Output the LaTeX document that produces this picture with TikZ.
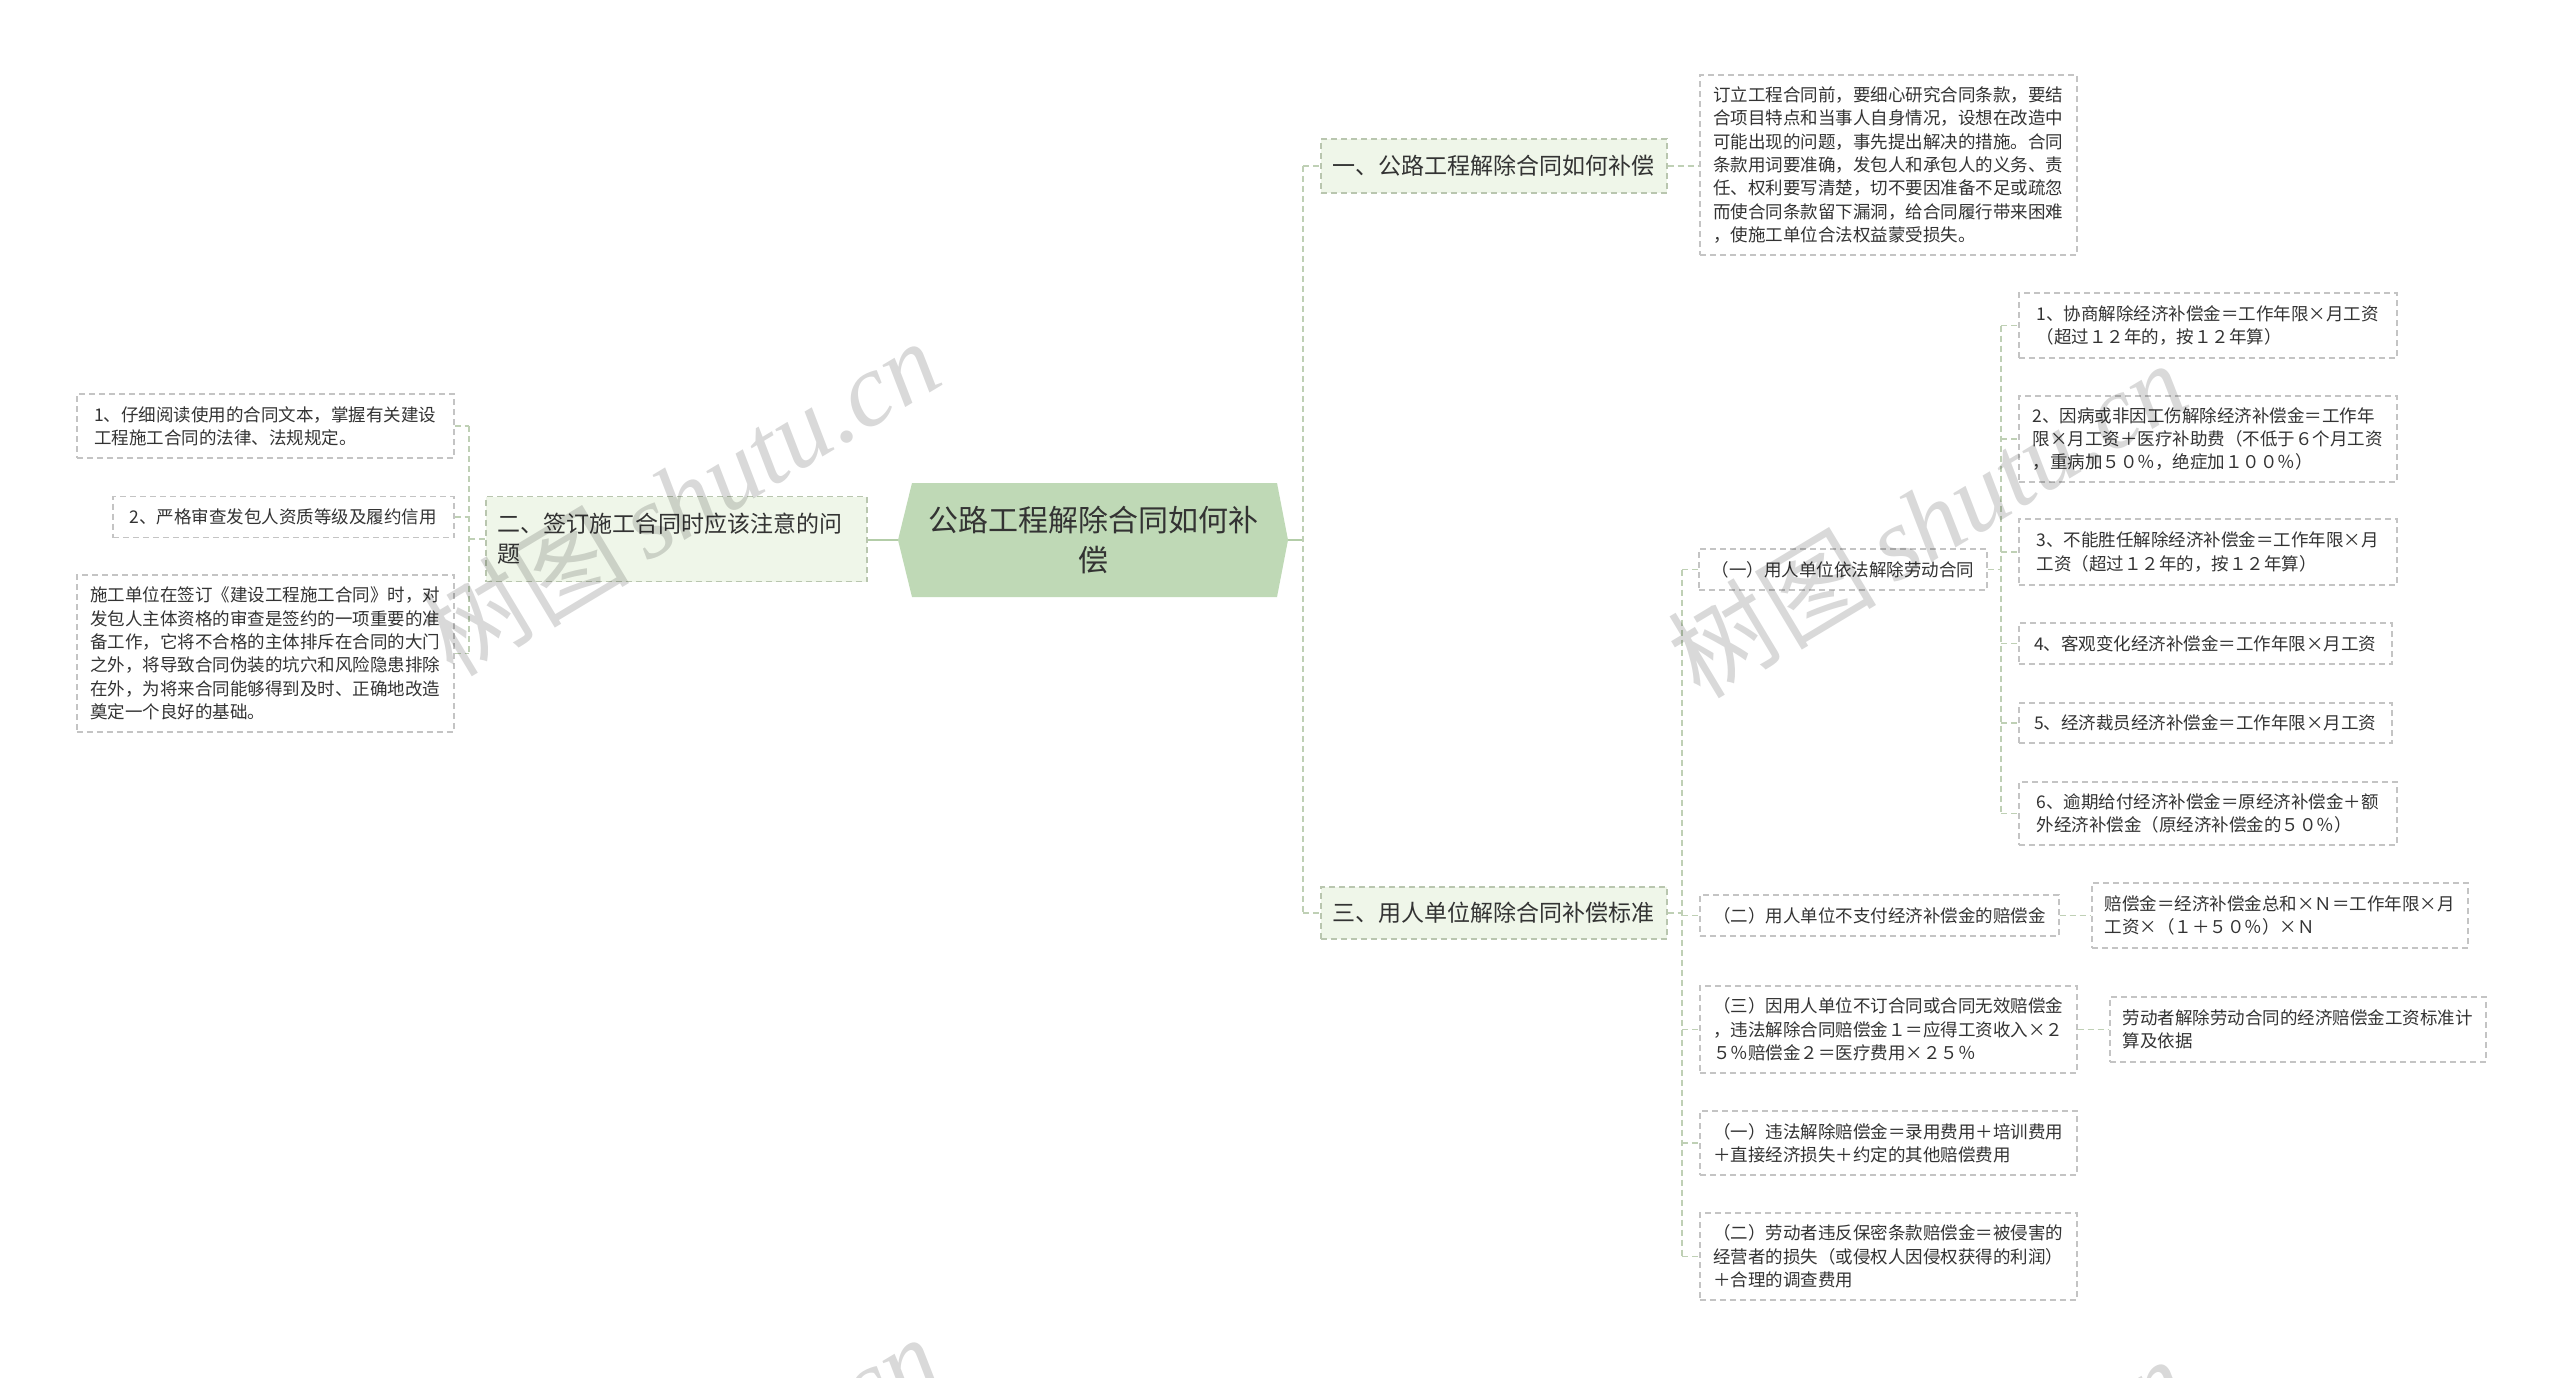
\documentclass[tikz,border=0pt]{standalone}
\usepackage{fontspec}
\setmainfont{Noto Sans CJK SC}
\newfontfamily\wmfont{Liberation Serif}
\usetikzlibrary{calc}
\definecolor{txt}{HTML}{333333}
\definecolor{rootfill}{HTML}{BFD9B6}
\definecolor{rootln}{HTML}{B3CDA8}
\definecolor{lonefill}{HTML}{EFF6E9}
\definecolor{loneborder}{HTML}{B9C6AF}
\definecolor{leafborder}{HTML}{C4C4C4}
\definecolor{connc}{HTML}{BFD0B5}
\begin{document}
\begin{tikzpicture}[x=1pt,y=-1pt,
  rootnode/.style={inner sep=0pt, minimum width=390pt, minimum height=114pt, align=center, text=txt, font=\fontsize{30pt}{40pt}\selectfont},
  lone/.style={draw=loneborder, fill=lonefill, line width=1.5pt, dash pattern=on 6pt off 4pt, anchor=west, align=left, inner xsep=12pt, inner ysep=0pt, text=txt, font=\fontsize{23pt}{30pt}\selectfont},
  leaf/.style={draw=leafborder, fill=white, line width=1.5pt, dash pattern=on 6pt off 4pt, anchor=west, align=left, inner xsep=10pt, inner ysep=0pt, text=txt, font=\fontsize{17.5pt}{23.3pt}\selectfont},
  conn/.style={draw=connc, line width=1.5pt, dash pattern=on 6pt off 4pt},
  rootline/.style={draw=rootln, line width=2pt},
  wm/.style={rotate=31, text=black, text opacity=0.15, inner sep=0pt, font=\fontsize{104pt}{104pt}\selectfont}
]
\useasboundingbox (0,0) rectangle (2560,1377);
\fill[white] (0,0) rectangle (2560,1377);

% root
\fill[rootfill] (898,540) -- (912,483) -- (1277,483) -- (1288,540) -- (1277,597) -- (912,597) -- cycle;
\node[rootnode] (root) at (1093,540) {公路工程解除合同如何补\\偿};

% level one
\node[lone, minimum width=381pt, minimum height=85pt, text width=357pt] (l2) at (485,539) {二、签订施工合同时应该注意的问\\题};
\node[lone, minimum width=346pt, minimum height=54pt] (r1) at (1320,166) {一、公路工程解除合同如何补偿};
\node[lone, minimum width=346pt, minimum height=52pt] (r3) at (1320,913) {三、用人单位解除合同补偿标准};

% left leaves
\node[leaf, minimum width=377pt, minimum height=64pt] (la) at (76,426) {1、仔细阅读使用的合同文本，掌握有关建设\\工程施工合同的法律、法规规定。};
\node[leaf, minimum width=341pt, minimum height=41pt] (lb) at (112,517) {2、严格审查发包人资质等级及履约信用};
\node[leaf, minimum width=377pt, minimum height=157pt] (lc) at (76,653.5) {施工单位在签订《建设工程施工合同》时，对\\发包人主体资格的审查是签约的一项重要的准\\备工作，它将不合格的主体排斥在合同的大门\\之外，将导致合同伪装的坑穴和风险隐患排除\\在外，为将来合同能够得到及时、正确地改造\\奠定一个良好的基础。};

% right leaves
\node[leaf, minimum width=377pt, minimum height=180pt] (d) at (1699,165) {订立工程合同前，要细心研究合同条款，要结\\合项目特点和当事人自身情况，设想在改造中\\可能出现的问题，事先提出解决的措施。合同\\条款用词要准确，发包人和承包人的义务、责\\任、权利要写清楚，切不要因准备不足或疏忽\\而使合同条款留下漏洞，给合同履行带来困难\\，使施工单位合法权益蒙受损失。};

\node[leaf, minimum width=288pt, minimum height=41pt] (c1) at (1698,569.5) {（一）用人单位依法解除劳动合同};
\node[leaf, minimum width=359pt, minimum height=41pt] (c2) at (1699,915.5) {（二）用人单位不支付经济补偿金的赔偿金};
\node[leaf, minimum width=377pt, minimum height=87pt] (c3) at (1699,1029.5) {（三）因用人单位不订合同或合同无效赔偿金\\，违法解除合同赔偿金１＝应得工资收入×２\\５％赔偿金２＝医疗费用×２５％};
\node[leaf, minimum width=377pt, minimum height=64pt] (c4) at (1699,1143) {（一）违法解除赔偿金＝录用费用＋培训费用\\＋直接经济损失＋约定的其他赔偿费用};
\node[leaf, minimum width=377pt, minimum height=87pt] (c5) at (1699,1256.5) {（二）劳动者违反保密条款赔偿金＝被侵害的\\经营者的损失（或侵权人因侵权获得的利润）\\＋合理的调查费用};

\node[leaf, minimum width=378pt, minimum height=65pt] (e1) at (2018,325.5) {1、协商解除经济补偿金＝工作年限×月工资\\（超过１２年的，按１２年算）};
\node[leaf, minimum width=378pt, minimum height=86pt] (e2) at (2018,439) {2、因病或非因工伤解除经济补偿金＝工作年\\限×月工资＋医疗补助费（不低于６个月工资\\，重病加５０％，绝症加１００％）};
\node[leaf, minimum width=378pt, minimum height=66pt] (e3) at (2018,552) {3、不能胜任解除经济补偿金＝工作年限×月\\工资（超过１２年的，按１２年算）};
\node[leaf, minimum width=373pt, minimum height=41pt] (e4) at (2018,643.5) {4、客观变化经济补偿金＝工作年限×月工资};
\node[leaf, minimum width=373pt, minimum height=40pt] (e5) at (2018,723) {5、经济裁员经济补偿金＝工作年限×月工资};
\node[leaf, minimum width=378pt, minimum height=63pt] (e6) at (2018,813.5) {6、逾期给付经济补偿金＝原经济补偿金＋额\\外经济补偿金（原经济补偿金的５０％）};

\node[leaf, minimum width=376pt, minimum height=65pt] (f1) at (2091,915.5) {赔偿金＝经济补偿金总和×Ｎ＝工作年限×月\\工资×（１＋５０％）×Ｎ};
\node[leaf, minimum width=376pt, minimum height=65pt] (f2) at (2109,1029.5) {劳动者解除劳动合同的经济赔偿金工资标准计\\算及依据};

% connectors left
\coordinate (lv) at (469,539);
\draw[rootline] (root.west) -- (root.west -| l2.east);
\draw[conn] (l2.west) -- (lv |- l2.west);
\draw[conn] (lv |- la.east) -- (lv |- lc.east);
\draw[conn] (la.east) -- (lv |- la.east);
\draw[conn] (lb.east) -- (lv |- lb.east);
\draw[conn] (lc.east) -- (lv |- lc.east);

% connectors right
\coordinate (rv) at (1303,540);
\draw[rootline] (root.east) -- (rv |- root.east);
\draw[conn] (rv |- r1.west) -- (rv |- r3.west);
\draw[conn] (rv |- r1.west) -- (r1.west);
\draw[conn] (rv |- r3.west) -- (r3.west);
\draw[conn] (r1.east) -- (r1.east -| d.west);

\coordinate (cv) at (1682,913);
\draw[conn] (r3.east) -- (cv |- r3.east);
\draw[conn] (cv |- c1.west) -- (cv |- c5.west);
\draw[conn] (cv |- c1.west) -- (c1.west);
\draw[conn] (cv |- c2.west) -- (c2.west);
\draw[conn] (cv |- c3.west) -- (c3.west);
\draw[conn] (cv |- c4.west) -- (c4.west);
\draw[conn] (cv |- c5.west) -- (c5.west);

\coordinate (ev) at (2001,569);
\draw[conn] (c1.east) -- (ev |- c1.east);
\draw[conn] (ev |- e1.west) -- (ev |- e6.west);
\draw[conn] (ev |- e1.west) -- (e1.west);
\draw[conn] (ev |- e2.west) -- (e2.west);
\draw[conn] (ev |- e3.west) -- (e3.west);
\draw[conn] (ev |- e4.west) -- (e4.west);
\draw[conn] (ev |- e5.west) -- (e5.west);
\draw[conn] (ev |- e6.west) -- (e6.west);

\draw[conn] (c2.east) -- (c2.east -| f1.west);
\draw[conn] (c3.east) -- (c3.east -| f2.west);

% watermarks
\begin{scope}
\clip (0,0) rectangle (2560,1377);
\node[wm] (wm1) at (680,497) {树图\,{\wmfont\itshape shutu.cn}};
\node[wm] (wm2) at (1927,519) {树图\,{\wmfont\itshape shutu.cn}};
\node[wm] (wm3) at (680,1493) {树图\,{\wmfont\itshape shutu.cn}};
\node[wm] (wm4) at (1927,1515) {树图\,{\wmfont\itshape shutu.cn}};
\end{scope}
\end{tikzpicture}
\end{document}
